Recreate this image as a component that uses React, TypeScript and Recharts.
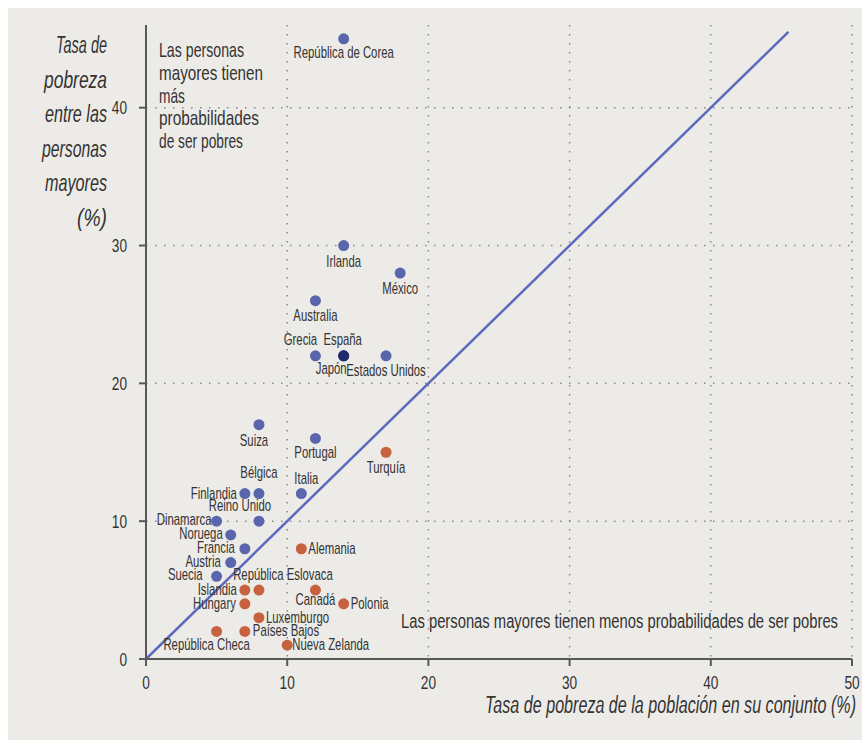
import React from "react";
import {
  ScatterChart,
  Scatter,
  XAxis,
  YAxis,
  CartesianGrid,
  ReferenceLine,
} from "recharts";

// overall poverty rate (x) vs poverty rate among older people (y), %
const olderPoorer = [
  { name: "República de Corea", x: 14, y: 45 },
  { name: "Irlanda", x: 14, y: 30 },
  { name: "México", x: 18, y: 28 },
  { name: "Australia", x: 12, y: 26 },
  { name: "Grecia", x: 12, y: 22 },
  { name: "Estados Unidos", x: 17, y: 22 },
  { name: "Suiza", x: 8, y: 17 },
  { name: "Portugal", x: 12, y: 16 },
  { name: "Finlandia", x: 7, y: 12 },
  { name: "Bélgica", x: 8, y: 12 },
  { name: "Italia", x: 11, y: 12 },
  { name: "Dinamarca", x: 5, y: 10 },
  { name: "Reino Unido", x: 8, y: 10 },
  { name: "Noruega", x: 6, y: 9 },
  { name: "Francia", x: 7, y: 8 },
  { name: "Austria", x: 6, y: 7 },
  { name: "Suecia", x: 5, y: 6 },
];

const highlighted = [
  { name: "España", x: 14, y: 22 },
  { name: "Japón", x: 14, y: 22 },
];

const olderLessPoor = [
  { name: "Turquía", x: 17, y: 15 },
  { name: "Alemania", x: 11, y: 8 },
  { name: "Islandia", x: 7, y: 5 },
  { name: "República Eslovaca", x: 8, y: 5 },
  { name: "Canadá", x: 12, y: 5 },
  { name: "Hungary", x: 7, y: 4 },
  { name: "Polonia", x: 14, y: 4 },
  { name: "Luxemburgo", x: 8, y: 3 },
  { name: "República Checa", x: 5, y: 2 },
  { name: "Países Bajos", x: 7, y: 2 },
  { name: "Nueva Zelanda", x: 10, y: 1 },
];

const xTicks = [0, 10, 20, 30, 40, 50];
const yTicks = [0, 10, 20, 30, 40];
const parityLine = [
  { x: 0, y: 0 },
  { x: 45.5, y: 45.5 },
];

const yTitle = ["Tasa de", "pobreza", "entre las", "personas", "mayores", "(%)"];
const noteAbove = ["Las personas", "mayores tienen", "más", "probabilidades", "de ser pobres"];
const noteBelow = "Las personas mayores tienen menos probabilidades de ser pobres";
const xTitle = "Tasa de pobreza de la población en su conjunto (%)";

const FONT = "'Liberation Sans', Arial, sans-serif";
const TEXT = "#333";
const NARROW = 0.71;

// label offset from the dot: [dx, dy (baseline), anchor]
const labelPlace: Record<string, [number, number, string]> = {
  "República de Corea": [0, 19, "middle"],
  Irlanda: [0, 21, "middle"],
  México: [0, 21, "middle"],
  Australia: [0, 20, "middle"],
  Grecia: [-15, -11, "middle"],
  España: [-1, -11, "middle"],
  Japón: [3, 18, "end"],
  "Estados Unidos": [0, 20, "middle"],
  Suiza: [-5, 21, "middle"],
  Portugal: [0, 20, "middle"],
  Turquía: [0, 21, "middle"],
  Finlandia: [-8, 5, "end"],
  Bélgica: [0, -16, "middle"],
  Italia: [5, -10, "middle"],
  Dinamarca: [-5, 4, "end"],
  "Reino Unido": [-19, -10, "middle"],
  Noruega: [-8, 4, "end"],
  Francia: [-10, 4, "end"],
  Alemania: [7, 5, "start"],
  Austria: [-10, 4, "end"],
  Suecia: [-14, 4, "end"],
  Islandia: [-8, 5, "end"],
  "República Eslovaca": [24, -10, "middle"],
  Canadá: [0, 15, "middle"],
  Hungary: [-9, 5, "end"],
  Polonia: [7, 5, "start"],
  Luxemburgo: [7, 5, "start"],
  "República Checa": [-10, 19, "middle"],
  "Países Bajos": [8, 5, "start"],
  "Nueva Zelanda": [5, 5, "start"],
};

function makeDot(color: string) {
  return function Dot(props: any) {
    const { cx, cy, payload } = props;
    const p = labelPlace[payload.name] || [0, 20, "middle"];
    return (
      <g>
        <circle cx={cx} cy={cy} r={5.5} fill={color} />
        <text
          transform={`translate(${cx + p[0]},${cy + p[1]}) scale(${NARROW},1)`}
          textAnchor={p[2] as any}
          fontSize={16}
          fontFamily={FONT}
          fill={TEXT}
        >
          {payload.name}
        </text>
      </g>
    );
  };
}

function XTick(props: any) {
  const { x, y, payload } = props;
  return (
    <text transform={`translate(${x},${y + 23}) scale(0.72,1)`} textAnchor="middle" fontSize={19} fontFamily={FONT} fill={TEXT}>
      {payload.value}
    </text>
  );
}

function YTick(props: any) {
  const { x, y, payload } = props;
  return (
    <text transform={`translate(${x},${y + 6.5}) scale(0.72,1)`} textAnchor="end" fontSize={19} fontFamily={FONT} fill={TEXT}>
      {payload.value}
    </text>
  );
}

const yTitleLen = [51, 63, 62, 65, 62, 30];
const noteAboveLen = [85, 104, 26, 100, 84];

export default function App() {
  return (
    <div style={{ position: "relative", width: 854, height: 732, margin: "8px 0 0 8px", background: "#edebe7" }}>
      <style>{`body{margin:0;overflow:hidden}`}</style>
      <ScatterChart width={854} height={732} margin={{ top: 17, right: 10, bottom: 51, left: 0 }}>
        <CartesianGrid
          stroke="#8a8a8a"
          strokeWidth={1.5}
          strokeDasharray="1.5 7.5"
          horizontalValues={[10, 20, 30, 40]}
          verticalValues={[10, 20, 30, 40, 50]}
        />
        <XAxis
          type="number"
          dataKey="x"
          domain={[0, 50]}
          ticks={xTicks}
          interval={0}
          height={30}
          axisLine={{ stroke: "#585858", strokeWidth: 2 }}
          tickLine={{ stroke: "#585858", strokeWidth: 2 }}
          tickSize={7}
          tickMargin={0}
          tick={<XTick />}
        />
        <YAxis
          type="number"
          dataKey="y"
          domain={[0, 46]}
          ticks={yTicks}
          interval={0}
          width={138}
          axisLine={{ stroke: "#585858", strokeWidth: 2 }}
          tickLine={{ stroke: "#585858", strokeWidth: 2 }}
          tickSize={7}
          tickMargin={12}
          tick={<YTick />}
        />
        <ReferenceLine segment={parityLine} stroke="#5b6abf" strokeWidth={2.5} />
        <Scatter data={olderLessPoor} shape={makeDot("#c8613f")} isAnimationActive={false} />
        <Scatter data={olderPoorer} shape={makeDot("#5966ad")} isAnimationActive={false} />
        <Scatter data={highlighted} shape={makeDot("#1e2a6c")} isAnimationActive={false} />
      </ScatterChart>

      <svg width={854} height={732} style={{ position: "absolute", left: 0, top: 0, pointerEvents: "none" }} fontFamily={FONT} fill={TEXT}>
        {yTitle.map((t, i) => (
          <text key={t} x={99} y={45 + i * 34.6} textAnchor="end" fontSize={24} fontStyle="italic" textLength={yTitleLen[i]} lengthAdjust="spacingAndGlyphs">
            {t}
          </text>
        ))}
        {noteAbove.map((t, i) => (
          <text key={t} x={151} y={49 + i * 22.75} fontSize={21} textLength={noteAboveLen[i]} lengthAdjust="spacingAndGlyphs">
            {t}
          </text>
        ))}
        <text x={393} y={620} fontSize={20} textLength={437} lengthAdjust="spacingAndGlyphs">
          {noteBelow}
        </text>
        <text x={848} y={705} textAnchor="end" fontSize={23} fontStyle="italic" textLength={371} lengthAdjust="spacingAndGlyphs">
          {xTitle}
        </text>
      </svg>
    </div>
  );
}
